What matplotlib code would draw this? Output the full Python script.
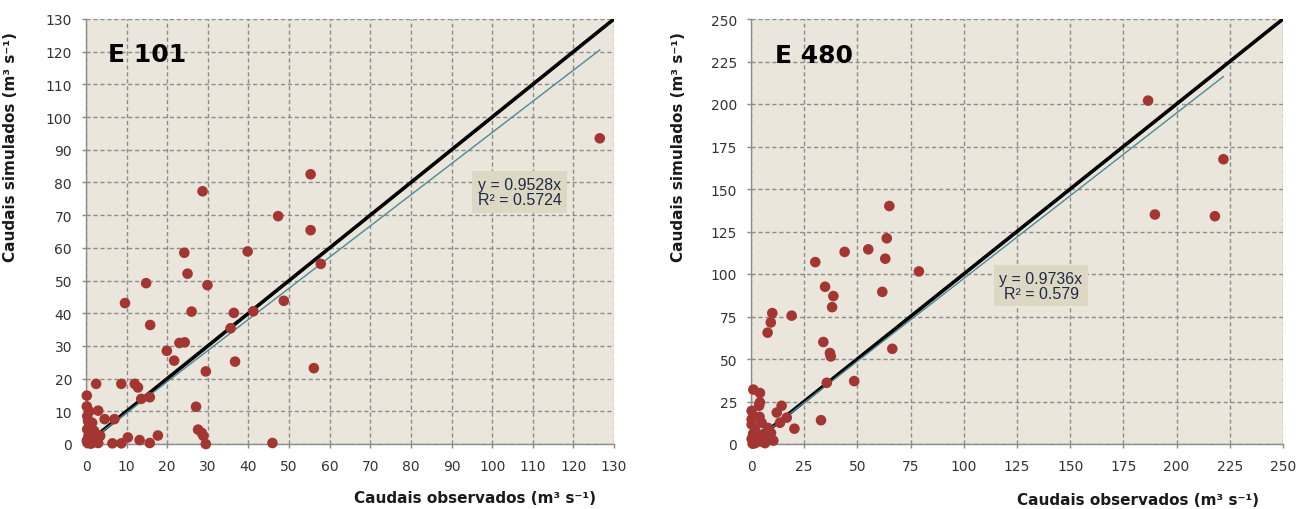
import matplotlib
matplotlib.use("Agg")
import matplotlib.pyplot as plt
import numpy as np

# ---- data: E 101 ----
e101_obs = [126.5, 55.3, 28.7, 47.3, 55.3, 24.2, 39.8, 57.8, 25.0, 14.8, 29.9, 48.7, 9.6,
            41.2, 36.4, 26.0, 15.8, 35.6, 24.3, 23.0, 19.9, 21.7, 36.7, 56.1, 29.5,
            2.5, 8.7, 12.0, 12.8, 13.6, 15.7, 27.1, 27.6, 28.5, 28.9, 29.5, 45.9, 17.7,
            15.7, 13.2, 10.3, 8.7, 6.5, 4.6, 7.0, 3.0,
            0.2, 0.2, 0.3, 0.5, 1.0, 0.3, 1.7, 2.5, 0.2, 1.2, 3.0, 0.6, 1.5, 2.0, 0.8,
            0.4, 1.8, 3.5]
e101_sim = [93.5, 82.5, 77.3, 69.7, 65.4, 58.5, 58.9, 55.1, 52.1, 49.2, 48.6, 43.8, 43.1,
            40.6, 40.1, 40.5, 36.4, 35.4, 31.1, 30.9, 28.5, 25.5, 25.2, 23.2, 22.2,
            18.4, 18.4, 18.4, 17.3, 13.8, 14.3, 11.4, 4.4, 3.4, 2.5, 0.0, 0.3, 2.6,
            0.3, 1.2, 2.0, 0.2, 0.2, 7.6, 7.6, 10.2,
            14.8, 11.5, 8.5, 7.0, 5.5, 4.5, 3.0, 1.5, 1.0, 0.1, 0.3, 2.5, 6.5, 4.0, 10.0,
            0.3, 0.5, 2.5]
e101_slope = 0.9528
e101_r2 = "0.5724"

# ---- data: E 480 ----
e480_obs = [186.6, 222.0, 189.8, 218.0, 65.0, 63.8, 63.1, 55.1, 44.0, 30.2, 78.9, 61.7,
            34.8, 38.7, 38.1, 34.0, 37.1, 37.5, 66.4, 48.5, 35.6, 10.0, 19.1, 9.3, 7.8,
            1.1, 4.2, 4.2, 3.8, 14.4, 12.1, 16.8, 20.4, 32.9, 13.6,
            0.3, 0.3, 0.3, 5.0, 7.9, 6.3, 9.4, 3.3, 8.6, 0.3, 1.9, 6.6, 2.0, 4.0, 1.0,
            10.5, 0.8, 4.5]
e480_sim = [202.0, 167.5, 135.0, 134.0, 140.0, 121.0, 109.0, 114.5, 113.0, 107.0, 101.5,
            89.5, 92.5, 87.0, 80.5, 60.0, 53.5, 51.5, 56.0, 37.0, 36.0, 77.0, 75.5, 71.5,
            65.5, 32.0, 30.0, 24.5, 22.5, 22.5, 18.5, 15.5, 9.0, 14.0, 12.5,
            19.5, 14.5, 11.5, 12.5, 9.5, 6.0, 6.5, 3.5, 3.5, 3.0, 0.5, 0.5, 8.0, 16.0,
            6.0, 2.0, 0.2, 1.5]
e480_slope = 0.9736
e480_r2 = "0.579"

x_label = "Caudais observados (m³ s⁻¹)"
y_label = "Caudais simulados (m³ s⁻¹)"

W, H = 1299, 510
fig = plt.figure(figsize=(W / 100, H / 100), dpi=100)
fig.patch.set_facecolor("white")

bg = "#EAE6DB"
pt_color = "#A33532"
fit_color = "#4E8A96"


def panel(rect, obs, sim, slope, r2txt, lim, step, title, title_xy, box_xy, box_ha,
          xl_coords, yl_coords):
    ax = fig.add_axes(rect)
    ax.set_facecolor(bg)
    ax.set_xlim(0, lim)
    ax.set_ylim(0, lim)
    ticks = np.arange(0, lim + 0.1, step)
    ax.set_xticks(ticks)
    ax.set_yticks(ticks)
    ax.tick_params(axis="both", labelsize=10, colors="#888888", labelcolor="#333333",
                   length=3, width=1)
    ax.tick_params(axis="x", pad=8)
    ax.tick_params(axis="y", pad=7)
    ax.grid(True, color="#8C8C8C", linestyle=(0, (3, 2)), linewidth=1)
    ax.set_axisbelow(True)
    for s in ["top", "right"]:
        ax.spines[s].set_visible(False)
    for s in ["left", "bottom"]:
        ax.spines[s].set_color("#8C8C8C")
        ax.spines[s].set_linewidth(1)
    # 1:1 line
    ax.plot([0, lim], [0, lim], color="black", linewidth=2.6, zorder=3, solid_capstyle="butt")
    # trend line
    xmax = max(obs)
    ax.plot([0, xmax], [0, slope * xmax], color=fit_color, linewidth=1.0, zorder=3.5)
    ax.scatter(obs, sim, s=58, color=pt_color, edgecolors="none", zorder=4, clip_on=False)
    ax.text(title_xy[0], title_xy[1], title, fontsize=18, fontweight="bold",
            ha="left", va="center", color="black", zorder=5)
    ax.text(box_xy[0], box_xy[1], f"y = {slope}x\nR² = {r2txt}", fontsize=11.5,
            family="Liberation Sans", color="#1F2A44", ha=box_ha, va="center",
            linespacing=1.0, multialignment=box_ha, zorder=5,
            bbox=dict(facecolor="#DCD8C4", edgecolor="none", boxstyle="square,pad=0.35"))
    ax.set_xlabel(x_label, fontsize=11, fontweight="bold", color="#1a1a1a")
    ax.set_ylabel(y_label, fontsize=11, fontweight="bold", color="#1a1a1a")
    ax.xaxis.set_label_coords(*xl_coords)
    ax.yaxis.set_label_coords(*yl_coords)
    return ax


def rect(x0, x1, y0, y1):
    return [x0 / W, (H - y1) / H, (x1 - x0) / W, (y1 - y0) / H]


panel(rect(86, 614, 20, 445), e101_obs, e101_sim, e101_slope, e101_r2, 130, 10,
      "E 101", (5.4, 119.3), (96.5, 77.1), "left", (0.737, -0.108), (-0.129, 0.70))
panel(rect(751, 1283, 20, 445), e480_obs, e480_sim, e480_slope, e480_r2, 250, 25,
      "E 480", (11.3, 229), (136.3, 93), "center", (0.727, -0.112), (-0.122, 0.70))

fig.savefig("out.png", dpi=100, facecolor="white")
